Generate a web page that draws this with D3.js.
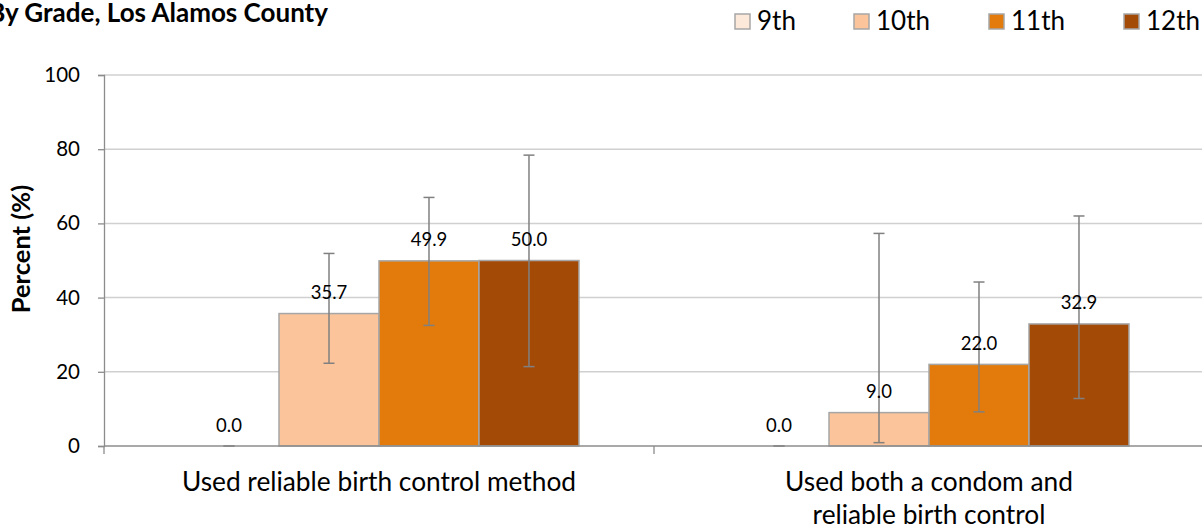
<!DOCTYPE html>
<html><head><meta charset="utf-8">
<script src="https://cdn.jsdelivr.net/npm/d3@7"></script>
<style>body{margin:0;background:#fff}svg{display:block;font-family:Lato,"Noto Sans",sans-serif}</style>
</head><body><svg id="c" width="1202" height="527"></svg>
<script>
const categories = [["Used reliable birth control method"], ["Used both a condom and", "reliable birth control"]];
const grades = ["9th", "10th", "11th", "12th"];
const colors = ["#fde9d9", "#fbc49a", "#e27b0b", "#a44a07"];
const values = [[0.0, 35.7, 49.9, 50.0], [0.0, 9.0, 22.0, 32.9]];
const lower = [[0.0, 22.3, 32.5, 21.4], [0.0, 0.9, 9.2, 12.8]];
const upper = [[0.0, 51.9, 67.0, 78.4], [0.0, 57.3, 44.2, 62.0]];
const yTicks = [0, 20, 40, 60, 80, 100];

(function () {
const svg = d3.select("#c");
const pLeft = 104, pRight = 1204, pTop = 75, pBottom = 446;
const y = d3.scaleLinear().domain([0, 100]).range([pBottom, pTop]);
const x0 = d3.scaleBand().domain(d3.range(categories.length)).range([pLeft, pRight]).paddingInner(0).paddingOuter(0);
const bw = x0.bandwidth();
const x1 = d3.scaleBand().domain(grades).range([bw * 0.1364, bw * (1 - 0.1364)]);

// gridlines
svg.append("g").selectAll("line").data(yTicks.filter(d => d > 0)).join("line")
  .attr("x1", pLeft).attr("x2", pRight).attr("y1", d => y(d)).attr("y2", d => y(d))
  .attr("stroke", "#d0d0d0").attr("stroke-width", 1.5);

// y axis
const ya = svg.append("g").attr("transform", `translate(${pLeft},0)`)
  .call(d3.axisLeft(y).tickValues(yTicks).tickSize(6).tickPadding(18));
ya.select(".domain").attr("stroke", "#8c8c8c").attr("stroke-width", 1.3);
ya.selectAll(".tick line").attr("stroke", "#8c8c8c").attr("stroke-width", 1.3);
ya.selectAll("text").attr("font-size", 20.5).attr("fill", "#000").attr("font-family", "Lato,sans-serif");

// bars
const groups = svg.append("g").selectAll("g").data(values).join("g")
  .attr("transform", (d, i) => `translate(${x0(i)},0)`);
groups.selectAll("rect").data(d => d).join("rect")
  .attr("x", (d, j) => x1(grades[j])).attr("width", x1.bandwidth())
  .attr("y", d => y(d)).attr("height", d => pBottom - y(d))
  .attr("fill", (d, j) => colors[j]).attr("stroke", "#a6a6a6").attr("stroke-width", 1.5);

// x axis
svg.append("line").attr("x1", pLeft).attr("x2", pRight).attr("y1", pBottom).attr("y2", pBottom)
  .attr("stroke", "#8c8c8c").attr("stroke-width", 1.5);
svg.append("g").selectAll("line").data(d3.range(categories.length + 1)).join("line")
  .attr("x1", i => pLeft + i * bw).attr("x2", i => pLeft + i * bw)
  .attr("y1", pBottom).attr("y2", pBottom + 8).attr("stroke", "#8c8c8c").attr("stroke-width", 1.3);

// error bars
groups.each(function (vals, i) {
  const g = d3.select(this);
  vals.forEach((v, j) => {
    const cx = x1(grades[j]) + x1.bandwidth() / 2;
    const e = g.append("g").attr("stroke", "#808080").attr("stroke-width", 1.5);
    e.append("line").attr("x1", cx).attr("x2", cx).attr("y1", y(lower[i][j])).attr("y2", y(upper[i][j]));
    e.append("line").attr("x1", cx - 5.5).attr("x2", cx + 5.5).attr("y1", y(lower[i][j])).attr("y2", y(lower[i][j]));
    e.append("line").attr("x1", cx - 5.5).attr("x2", cx + 5.5).attr("y1", y(upper[i][j])).attr("y2", y(upper[i][j]));
  });
});

// value labels
groups.selectAll("text.v").data(d => d).join("text").attr("class", "v")
  .attr("x", (d, j) => x1(grades[j]) + x1.bandwidth() / 2).attr("y", d => y(d) - 14.5)
  .attr("text-anchor", "middle").attr("font-size", 18.5).attr("fill", "#000")
  .text(d => d.toFixed(1));

// category labels
svg.append("g").selectAll("text").data(categories).join("text")
  .attr("x", (d, i) => x0(i) + bw / 2).attr("y", 491)
  .attr("text-anchor", "middle").attr("font-size", 26.3).attr("fill", "#000")
  .selectAll("tspan").data(d => d).join("tspan")
  .attr("x", function () { return d3.select(this.parentNode).attr("x"); })
  .attr("dy", (d, k) => k === 0 ? 0 : 32.5).text(d => d);

// y title
svg.append("text").attr("transform", "translate(30,249) rotate(-90)")
  .attr("text-anchor", "middle").attr("font-size", 25.5).attr("font-weight", "bold").text("Percent (%)");

// title
svg.append("text").attr("x", 328).attr("y", 22).attr("text-anchor", "end")
  .attr("font-size", 26).attr("font-weight", "bold")
  .text("By Grade, Los Alamos County");

// legend
const legX = [735, 854, 989, 1124];
const leg = svg.append("g").selectAll("g").data(grades).join("g")
  .attr("transform", (d, i) => `translate(${legX[i]},14)`);
leg.append("rect").attr("width", 15).attr("height", 15)
  .attr("fill", (d, i) => colors[i]).attr("stroke", "#a6a6a6").attr("stroke-width", 1.5);
leg.append("text").attr("x", 22).attr("y", 16).attr("font-size", 26).text(d => d);
})();
</script></body></html>
